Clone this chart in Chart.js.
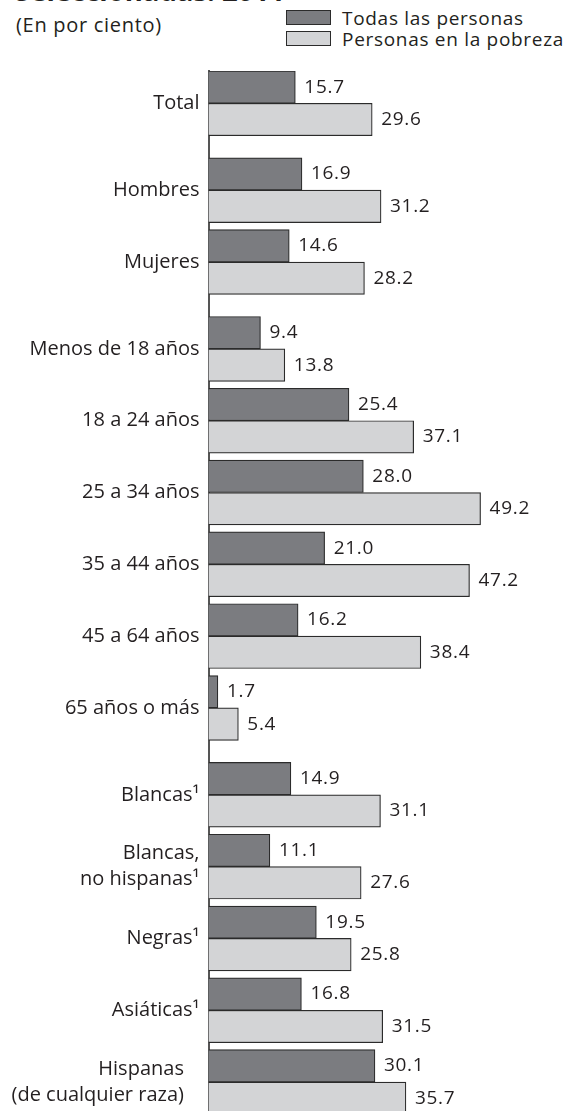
<!DOCTYPE html>
<html>
<head>
<meta charset="utf-8">
<script src="https://cdn.jsdelivr.net/npm/chart.js@4"></script>
<style>
body{margin:0;background:#fff;overflow:hidden;width:563px;height:1111px;position:relative;font-family:"Open Sans",sans-serif;color:#231f20}
#title{position:absolute;left:15px;top:-23px;font-size:27.5px;line-height:27px;font-weight:bold;white-space:nowrap}
#sub{position:absolute;left:16px;top:14px;font-size:20px;line-height:22px;letter-spacing:0.7px}
.leg{position:absolute;left:286px;height:22px;font-size:19px;line-height:22px;letter-spacing:0.7px;white-space:nowrap}
.leg span{position:absolute;left:0;top:3px;width:43px;height:13px;border:1.5px solid #2b2b2b}
.leg b{font-weight:normal;position:absolute;left:56px;top:0}
#wrap{position:absolute;left:0;top:0;width:563px;height:1150px}
</style>
</head>
<body>
<div id="title">Seleccionadas: 2011</div>
<div id="sub">(En por ciento)</div>
<div class="leg" style="top:7px"><span style="background:#7b7c80"></span><b>Todas las personas</b></div>
<div class="leg" style="top:28px"><span style="background:#d3d4d6"></span><b>Personas en la pobreza</b></div>
<div id="wrap"><canvas id="chart"></canvas></div>
<script>
// categories (multi-line labels as arrays)
const categories = [
"Total",
"Hombres",
"Mujeres",
"Menos de 18 años",
"18 a 24 años",
"25 a 34 años",
"35 a 44 años",
"45 a 64 años",
"65 años o más",
"Blancas¹",
["Blancas,", "no hispanas¹"],
"Negras¹",
"Asiáticas¹",
["Hispanas\u00a0\u00a0\u00a0", "(de cualquier raza)\u00a0\u00a0\u00a0"]
];

const todasLasPersonas = [15.7, 16.9, 14.6, 9.4, 25.4, 28.0, 21.0, 16.2, 1.7, 14.9, 11.1, 19.5, 16.8, 30.1];
const personasEnPobreza = [29.6, 31.2, 28.2, 13.8, 37.1, 49.2, 47.2, 38.4, 5.4, 31.1, 27.6, 25.8, 31.5, 35.7];

// extra space before these categories (group breaks)
const groupStarts = [1, 3, 9];
const GAP = 0.21;

const slots = [];
let y = 0;
categories.forEach((c, i) => {
  if (groupStarts.includes(i)) y += GAP;
  slots.push(y);
  y += 1;
});

const toPoints = vals => vals.map((v, i) => ({x: v, y: slots[i]}));

const valueLabels = {
  id: "valueLabels",
  afterDatasetsDraw(chart) {
    const ctx = chart.ctx;
    ctx.save();
    ctx.font = '19px "Open Sans"';
    ctx.letterSpacing = "0.7px";
    ctx.fillStyle = "#231f20";
    ctx.textAlign = "left";
    ctx.textBaseline = "middle";
    const series = [todasLasPersonas, personasEnPobreza];
    series.forEach((vals, di) => {
      chart.getDatasetMeta(di).data.forEach((bar, i) => {
        ctx.fillText(vals[i].toFixed(1), bar.x + 9, bar.y);
      });
    });
    ctx.restore();
  }
};

new Chart(
document.getElementById("chart"),
{
type: "bar",
data: {
datasets: [{
label: "Todas las personas",
data: toPoints(todasLasPersonas),
backgroundColor: "#7b7c80",
borderColor: "#2b2b2b",
borderWidth: 1.2
}, {
label: "Personas en la pobreza",
data: toPoints(personasEnPobreza),
backgroundColor: "#d3d4d6",
borderColor: "#2b2b2b",
borderWidth: 1.2
}]
},
options: {
indexAxis: "y",
responsive: true,
maintainAspectRatio: false,
animation: false,
barThickness: 32.4,
layout: {padding: {top: 71, bottom: 27, left: 0, right: 22.7}},
plugins: {legend: {display: false}, tooltip: {enabled: false}},
scales: {
x: {
display: false,
min: 0,
max: 60
},
y: {
type: "linear",
reverse: true,
offset: false,
min: -0.45,
max: 14.2,
grid: {display: false, drawTicks: false, offset: false},
border: {display: true, color: "#555", width: 2},
afterFit(scale) {
  scale.width = 208.5;
  scale.paddingTop = 0;
  scale.paddingBottom = 0;
},
afterBuildTicks(scale) { scale.ticks = slots.map(v => ({value: v})); },
ticks: {
autoSkip: false,
padding: 9,
color: "#231f20",
font: {family: "Open Sans", size: 20, lineHeight: 1.3},
callback: (value, index) => categories[index]
}
}
}
},
plugins: [valueLabels]
}
);
</script>
</body>
</html>
